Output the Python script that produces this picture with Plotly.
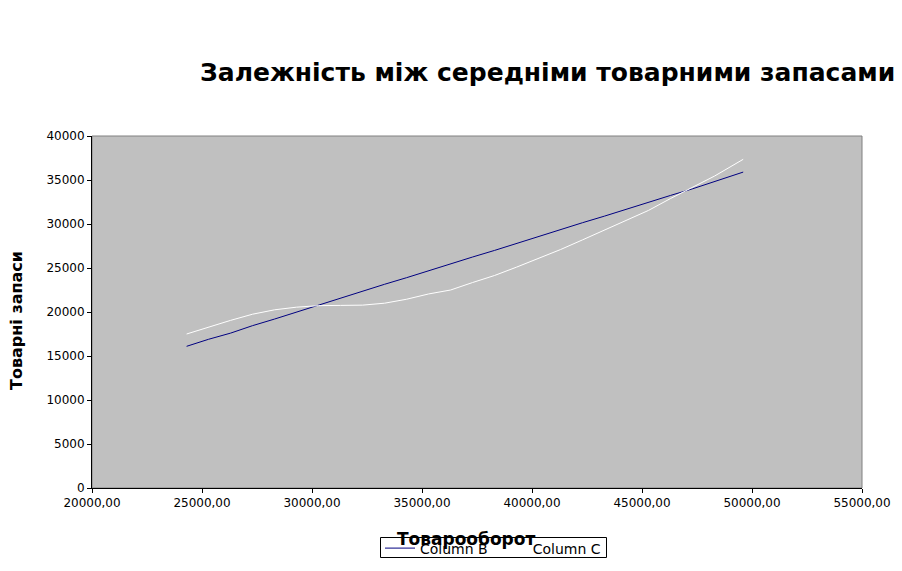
import plotly.graph_objects as go

# turnover (x) and the two series
turnover = [24300, 25300, 26300, 27300, 28300, 29300, 30300, 31300, 32300, 33300,
            34300, 35300, 36300, 37300, 38300, 39300, 40300, 41300, 42300, 43300,
            44300, 45300, 46300, 47300, 48300, 49600]
column_b = [16100, 16900, 17600, 18450, 19200, 20000, 20800, 21550, 22350, 23150,
            23900, 24700, 25450, 26250, 27000, 27800, 28600, 29400, 30150, 30900,
            31700, 32500, 33250, 34000, 34800, 35900]
column_c = [17500, 18300, 19050, 19750, 20250, 20550, 20720, 20750, 20780, 21000,
            21450, 22050, 22500, 23350, 24150, 25100, 26100, 27100, 28200, 29300,
            30450, 31550, 32900, 34200, 35450, 37350]

x_ticks = [20000, 25000, 30000, 35000, 40000, 45000, 50000, 55000]
x_labels = ['20000,00', '25000,00', '30000,00', '35000,00', '40000,00',
            '45000,00', '50000,00', '55000,00']
y_ticks = [0, 5000, 10000, 15000, 20000, 25000, 30000, 35000, 40000]
y_labels = ['0', '5000', '10000', '15000', '20000', '25000', '30000', '35000', '40000']

FONT = 'DejaVu Sans'
W, H = 902, 571
PAGE = 8  # the page body adds an 8px margin around the figure


def px_x(sx):
    # screen x -> paper x of the plot area (84..854 inside the figure)
    return (sx - PAGE - 84) / 770


def px_y(sy):
    # screen y -> paper y of the plot area (128..480 inside the figure)
    return (480 - (sy - PAGE)) / 352


fig = go.Figure()
fig.add_trace(go.Scatter(x=turnover, y=column_b, name='Column B', mode='lines',
                         line=dict(color='#000080', width=1)))
fig.add_trace(go.Scatter(x=turnover, y=column_c, name='Column C', mode='lines',
                         line=dict(color='#ffffff', width=1)))

# gray frame on top/right of the plot area
fig.add_shape(type='rect', xref='paper', yref='paper', x0=0, y0=0, x1=1, y1=1,
              line=dict(color='#808080', width=1), layer='below')
# legend frame
fig.add_shape(type='rect', xref='paper', yref='paper',
              x0=px_x(380.5), x1=px_x(606.5), y0=px_y(557.5), y1=px_y(537.5),
              line=dict(color='black', width=1), layer='above')

fig.update_layout(
    width=W, height=H,
    margin=dict(l=84, r=48, t=128, b=91),
    paper_bgcolor='white',
    plot_bgcolor='#c0c0c0',
    font=dict(family=FONT, size=12, color='black'),
    title=dict(text='<b>Залежність між середніми товарними запасами</b>',
               x=(200 - PAGE) / W, xanchor='left', xref='container',
               y=1 - (72 - PAGE) / H, yanchor='middle', yref='container',
               font=dict(family=FONT, size=25, color='black'),
               automargin=False),
    showlegend=True,
    legend=dict(orientation='h', xref='container', yref='container',
                x=(380 - PAGE) / W, xanchor='left',
                y=1 - (548.5 - PAGE) / H, yanchor='middle',
                bgcolor='rgba(0,0,0,0)', borderwidth=0,
                font=dict(family=FONT, size=14), itemwidth=30,
                tracegroupgap=0),
    annotations=[
        dict(text='<b>Товарооборот</b>', xref='paper', yref='paper',
             x=px_x(466), y=px_y(539), xanchor='center', yanchor='middle',
             showarrow=False, font=dict(family=FONT, size=17)),
        dict(text='<b>Товарні запаси</b>', xref='paper', yref='paper',
             x=px_x(16), y=px_y(321), xanchor='center', yanchor='middle',
             showarrow=False, textangle=-90,
             font=dict(family=FONT, size=16)),
    ],
)

fig.update_xaxes(range=[20000, 55000], tickvals=x_ticks, ticktext=x_labels,
                 showgrid=False, zeroline=False, showline=True,
                 linecolor='black', linewidth=1, ticks='outside', ticklen=4,
                 tickcolor='black', tickfont=dict(size=12), automargin=False)
fig.update_yaxes(range=[0, 40000], tickvals=y_ticks, ticktext=y_labels,
                 showgrid=False, zeroline=False, showline=True,
                 linecolor='black', linewidth=1, ticks='outside', ticklen=4,
                 tickcolor='black', tickfont=dict(size=12), automargin=False)

fig.write_html("out.html")
